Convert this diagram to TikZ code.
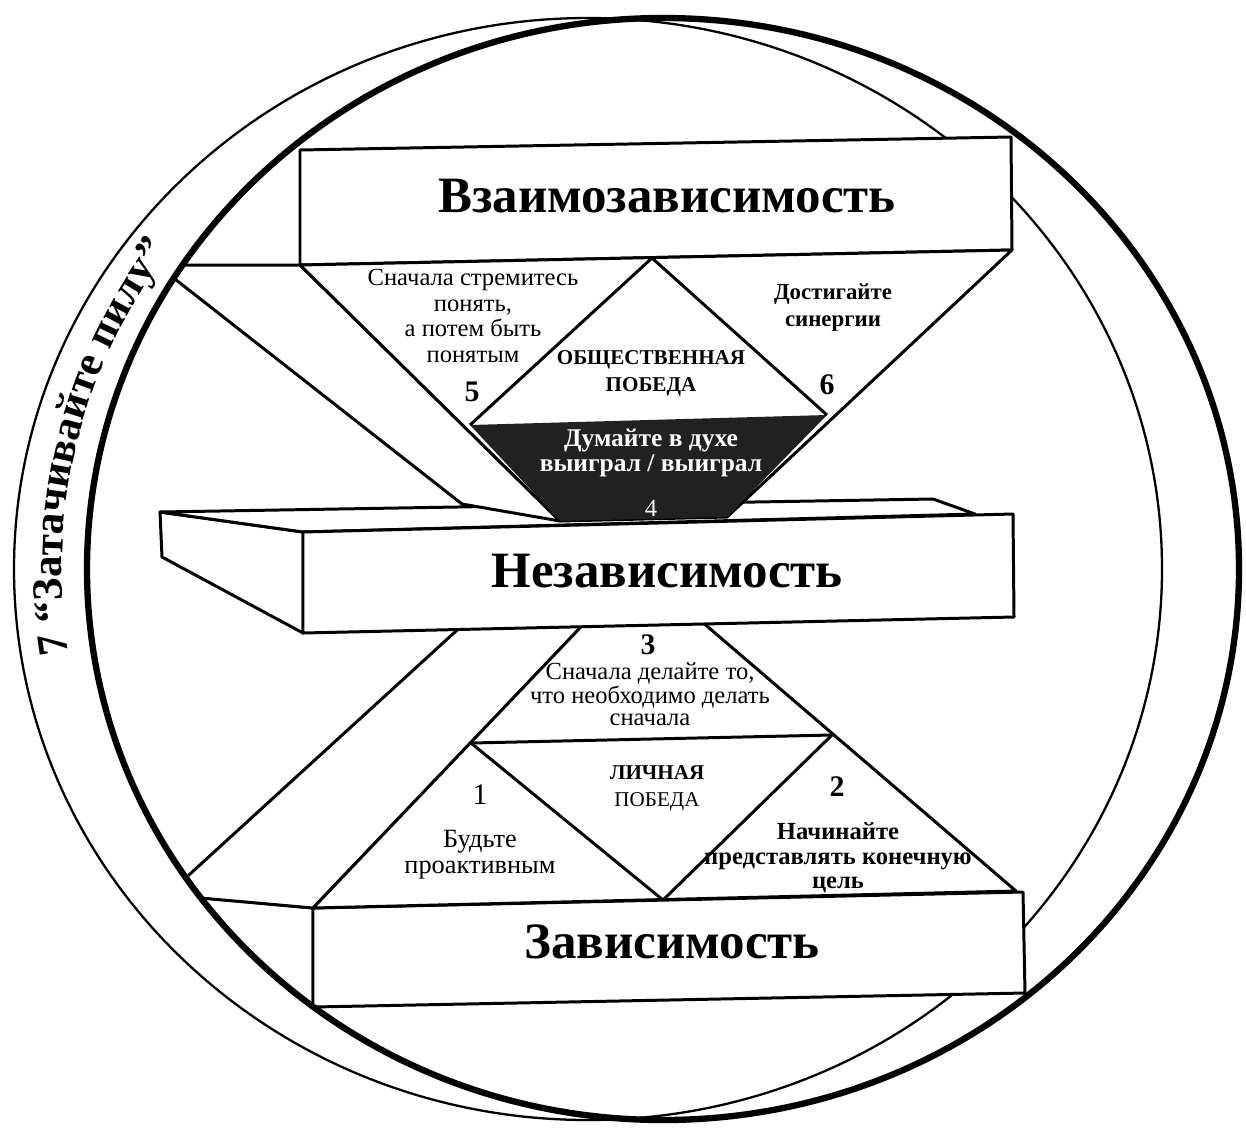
\documentclass[tikz,border=0pt]{standalone}
\usepackage{fontspec}
\setmainfont{Liberation Serif}
\usetikzlibrary{decorations.text}
\tikzstyle{edge} = [line width=1.7pt, line join=round]
\tikzstyle{face} = [edge, draw, fill=white]
\tikzstyle{boxtitle} = [anchor=base, inner sep=0pt, font=\fontsize{29}{30}\selectfont\bfseries]
\tikzstyle{tnote} = [align=center, inner sep=0pt, font=\fontsize{14}{14.6}\selectfont]
\tikzstyle{stepnum} = [inner sep=0pt, font=\fontsize{17}{17}\selectfont\bfseries]

\begin{document}
\begin{tikzpicture}[x=0.02cm, y=-0.02cm]
\definecolor{inkdark}{gray}{0.13}
\useasboundingbox (0,0) rectangle (1246,1136);
    % Draw the outer circle
    \draw[line width=1.3pt] (588,569) ellipse [x radius=574, y radius=551];

\begin{scope}
    \clip (663,569) ellipse [x radius=576, y radius=551];
    % Dependence box
    \draw[face] (140,892) -- (313,908) coordinate (b_1)
        -- (313,1007) coordinate (b_4) -- (140,1007) -- cycle;
    \draw[face] (b_1) -- (1023,892) coordinate (b_2)
        -- (1025,993) coordinate (b_3) -- (b_4) -- cycle;
    % Lower arm and triangle
    \draw[face] (490,600) -- (607,600) -- (b_1) -- (167,895) -- cycle;
    \draw[face] (638,567) coordinate (l_0) -- (b_1) -- (1016,891) coordinate (l_2) -- cycle;
    \draw[edge] (471,743) coordinate (h_1) -- (832,735) coordinate (h_2);
    \draw[edge] (h_1) -- (663,900) coordinate (h_3) -- (h_2);
    % Independence box, side and top
    \draw[face] (160,512) coordinate (m_1) -- (303,532) coordinate (m_2)
        -- (303,633) coordinate (m_3) -- (162,557) coordinate (m_4) -- cycle;
    \draw[face] (m_1) -- (933,499) coordinate (m_7) -- (975,514) coordinate (m_8) -- (m_2) -- cycle;
    % Interdependence box
    \draw[face] (300,150) coordinate (t_1) -- (1011,137) coordinate (t_2)
        -- (1012,250) coordinate (t_3) -- (300,265) coordinate (t_4) -- cycle;
    % Upper arm and triangle
    \draw[face] (157,265) -- (t_4) -- (560,521) coordinate (d_4) -- (462,504) -- cycle;
    \draw[face] (t_4) -- (t_3) -- (727,517) coordinate (d_3) -- (d_4) -- cycle;
    \fill[inkdark] (470,425) coordinate (d_1) -- (827,415) coordinate (d_2) -- (d_3) -- (d_4) -- cycle;
    \draw[edge] (d_1) -- (652,258) coordinate (o_1) -- (d_2);
    % Independence box, front
    \draw[face] (m_2) -- (1013,514) coordinate (m_5)
        -- (1014,617) coordinate (m_6) -- (m_3) -- cycle;
\end{scope}
    % Draw the inner circle
    \draw[line width=3.6pt] (663,569) ellipse [x radius=576, y radius=551];

    % Box titles
    \node[boxtitle] (interdep) at (667,212) {Взаимозависимость};
    \node[boxtitle] (indep) at (667,587) {Независимость};
    \node[boxtitle] (dep) at (672,958) {Зависимость};

    % Habits
    \node[tnote] (seek) at (473,316) {Сначала стремитесь\\понять,\\а потем быть\\понятым};
    \node[stepnum] (s_5) at (472,392) {5};
    \node[tnote, font=\fontsize{13}{15.3}\selectfont\bfseries] (syn) at (833,308) {Достигайте\\синергии};
    \node[stepnum] (s_6) at (827,385) {6};
    \node[tnote, font=\fontsize{12}{15.3}\selectfont\bfseries] (pub) at (651,373) {ОБЩЕСТВЕННАЯ\\ПОБЕДА};
    \node[tnote, text=white, font=\fontsize{14.5}{14.2}\selectfont\bfseries] (win) at (651,453) {Думайте в духе\\выиграл / выиграл};
    \node[stepnum, text=white, font=\fontsize{14}{14}\selectfont] (s_4) at (651,508) {4};
    \node[stepnum] (s_3) at (648,645) {3};
    \node[tnote, font=\fontsize{14}{12.5}\selectfont] (first) at (650,694) {Сначала делайте то,\\что необходимо делать\\сначала};
    \node[tnote, font=\fontsize{12}{15.3}\selectfont] (priv) at (657,788) {\textbf{ЛИЧНАЯ}\\ПОБЕДА};
    \node[stepnum, font=\fontsize{17}{17}\selectfont] (s_1) at (480,795) {1};
    \node[tnote, font=\fontsize{15}{14.7}\selectfont] (pro) at (480,855) {Будьте\\проактивным};
    \node[stepnum] (s_2) at (837,787) {2};
    \node[tnote, font=\fontsize{14}{14}\selectfont\bfseries] (goal) at (838,858) {Начинайте\\представлять конечную\\цель};

    % Sharpen the saw
    \path[decorate, decoration={text along path,
        text={|\fontsize{24.5}{25}\selectfont\bfseries|7 “Затачивайте пилу”}}]
        (625,569) ++(171:563 and 543) arc [start angle=171, end angle=235, x radius=563, y radius=543];
\end{tikzpicture}
\end{document}
